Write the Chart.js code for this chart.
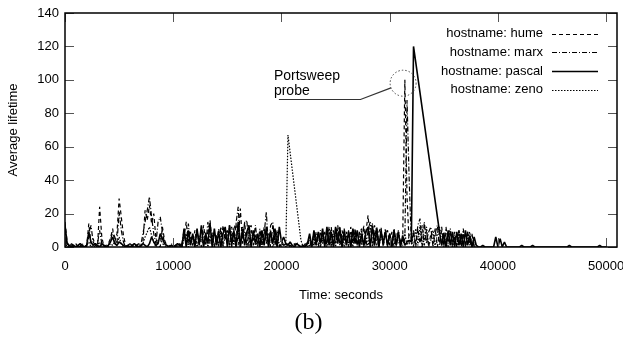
<!DOCTYPE html>
<html>
<head>
<meta charset="utf-8">
<script src="https://cdn.jsdelivr.net/npm/chart.js@4.4.1/dist/chart.umd.min.js"></script>
<style>
  html, body { margin: 0; padding: 0; background: #fff; }
  #wrap { width: 623px; height: 337px; }
</style>
</head>
<body>
<div id="wrap"><canvas id="lifetime-chart" width="623" height="337"></canvas></div>
<script>
// samples every 200 s, starting at t = 0
const sampleStart = 0;
const sampleStep = 200;

const humeValues = [
    15, 3, 0, 1, 0, 2, 0, 1, 0, 1,
    0, 14, 2, 5, 1, 0, 24, 6, 0, 1,
    2, 5, 11, 3, 8, 29, 18, 7, 1, 0,
    1, 0, 2, 0, 1, 0, 3, 22, 16, 25,
    14, 20, 5, 1, 0, 12, 4, 1, 0, 1,
    0, 1, 0, 2, 0, 6, 15, 2, 9, 1,
    10, 2, 7, 0, 13, 3, 9, 16, 1, 8,
    2, 11, 0, 13, 4, 10, 1, 12, 3, 14,
    1, 23, 2, 15, 0, 10, 13, 1, 8, 2,
    9, 1, 12, 2, 8, 0, 13, 3, 1, 2,
    0, 1, 2, 0, 1, 0, 2, 0, 1, 0,
    0, 2, 1, 6, 1, 9, 2, 8, 0, 7,
    1, 10, 2, 12, 0, 8, 13, 1, 10, 3,
    9, 0, 12, 2, 10, 1, 8, 11, 0, 9,
    19, 2, 6, 13, 1, 9, 12, 0, 8, 10,
    1, 9, 0, 8, 2, 4, 3, 100, 30, 2,
    1, 9, 0, 11, 2, 13, 1, 10, 0, 8,
    2, 11, 0, 9, 12, 1, 8, 0, 10, 2,
    9, 1, 10, 0, 8, 2, 9, 1, 4, 1,
    0
];

const marxValues = [
    10, 1, 0, 2, 1, 0, 1, 0, 2, 0,
    1, 6, 13, 3, 1, 2, 10, 2, 1, 0,
    1, 4, 9, 6, 2, 21, 10, 3, 0, 1,
    2, 1, 0, 1, 2, 1, 8, 15, 22, 30,
    18, 8, 2, 15, 18, 9, 2, 1, 0, 2,
    1, 0, 1, 0, 2, 10, 1, 14, 2, 7,
    1, 10, 2, 12, 7, 0, 15, 2, 9, 0,
    7, 0, 12, 1, 10, 2, 13, 0, 11, 14,
    24, 1, 6, 14, 16, 0, 10, 4, 13, 0,
    11, 2, 8, 21, 0, 13, 15, 1, 10, 0,
    4, 1, 0, 2, 0, 1, 0, 3, 1, 0,
    1, 0, 3, 0, 4, 1, 9, 0, 10, 2,
    9, 1, 12, 0, 10, 2, 8, 12, 0, 11,
    1, 10, 0, 7, 11, 0, 9, 1, 13, 0,
    10, 15, 0, 8, 12, 1, 9, 2, 11, 0,
    8, 1, 11, 0, 9, 3, 1, 5, 88, 40,
    2, 10, 1, 13, 17, 0, 15, 2, 9, 12,
    0, 8, 13, 1, 10, 0, 12, 2, 9, 0,
    6, 0, 10, 2, 11, 0, 9, 1, 8, 0,
    0
];

// null = no sample, the line runs straight across
const pascalValues = [
    13, 2, 1, 0, 1, 0, 1, 2, 1, 0,
    1, 9, 3, 1, 2, 1, 0, 2, 1, 0,
    1, 3, 6, 2, 1, 3, 2, 1, 0, 1,
    0, 1, 2, 1, 0, 1, 2, 1, 0, 2,
    6, 3, 1, 2, 8, 5, 2, 1, 0, 1,
    0, 1, 2, 1, 0, 11, 0, 10, 1, 8,
    0, 11, 1, 13, 0, 8, 2, 14, 0, 11,
    1, 9, 0, 8, 12, 0, 13, 1, 10, 0,
    15, 0, 11, 1, 9, 13, 0, 10, 2, 8,
    0, 10, 1, 12, 0, 9, 2, 11, 0, 12,
    3, 6, 2, 1, 3, 1, 0, 2, 1, 0,
    1, 0, 2, 8, 0, 10, 1, 9, 2, 11,
    0, 12, 1, 9, 0, 12, 2, 11, 0, 10,
    1, 9, 0, 11, 2, 10, 0, 8, 1, 9,
    12, 0, 13, 1, 11, 0, 10, 2, 9, 1,
    8, 0, 10, 1, 9, 0, 7, 1, 3, 4,
    3, 120, null, null, null, null, null, null, null, null,
    null, null, null, 9, 1, 8, 0, 10, 1, 9,
    0, 9, 1, 8, 0, 10, 1, 7, 0, 6,
    1, 0, 0, 1, 0, 0, 0, 0, 0, 6,
    0, 5, 0, 3, 0, 0, 0, 0, 0, 0,
    0, 1, 0, 0, 0, 0, 1, 0, 0, 0,
    0, 0, 0, 0, 0, 0, 0, 0, 0, 0,
    0, 0, 0, 1, 0, 0, 0, 0, 0, 0,
    0, 0, 0, 0, 0, 0, 0, 1, 0, 0,
    0
];

const zenoValues = [
    3, 0, 1, 0, 1, 0, 0, 1, 0, 0,
    1, 3, 0, 1, 0, 1, 3, 0, 1, 0,
    0, 2, 1, 3, 1, 6, 2, 0, 1, 0,
    0, 1, 0, 0, 1, 0, 2, 6, 9, 12,
    7, 3, 0, 4, 6, 2, 1, 0, 1, 0,
    1, 0, 0, 1, 0, 5, 8, 0, 6, 1,
    5, 0, 4, 6, 1, 9, 0, 5, 8, 0,
    6, 1, 9, 0, 7, 10, 0, 8, 1, 7,
    10, 0, 12, 8, 1, 7, 0, 9, 1, 3,
    6, 0, 4, 7, 1, 10, 0, 4, 8, 1,
    1, 2, 0, 67, null, null, null, null, null, 4,
    0, 1, 0, 4, 0, 6, 1, 8, 0, 7,
    4, 0, 10, 1, 8, 0, 11, 1, 7, 0,
    7, 1, 9, 0, 8, 1, 4, 10, 0, 7,
    0, 11, 14, 1, 8, 0, 7, 1, 10, 0,
    7, 0, 8, 1, 10, 0, 4, 8, 1, 7,
    8, 0, 11, 1, 13, 0, 5, 12, 1, 4,
    10, 0, 8, 12, 1, 9, 0, 7, 11, 0,
    7, 0, 9, 1, 8, 0, 6, 9, 0, 3,
    1
];

const seriesNames = ['hostname: hume', 'hostname: marx', 'hostname: pascal', 'hostname: zeno'];
const xTickValues = [0, 10000, 20000, 30000, 40000, 50000];
const yTickValues = [0, 20, 40, 60, 80, 100, 120, 140];

// annotation, in data units
const probeLines = ['Portsweep', 'probe'];
const probeTextAt = { x: 19300, y: 102 };
const probeElbowX = 27300;
const probeCircleAt = { x: 31240, y: 98 };

const toPoints = (values) => values.map((v, i) => ({ x: sampleStart + i * sampleStep, y: v }));

const frameTicks = {
    id: 'frameTicks',
    afterDatasetsDraw(chart) {
        const { ctx, chartArea: a, scales: { x, y } } = chart;
        ctx.save();
        ctx.strokeStyle = '#555';
        ctx.lineWidth = 1;
        ctx.beginPath();
        xTickValues.forEach(v => {
            const px = Math.round(x.getPixelForValue(v)) + 0.5;
            ctx.moveTo(px, a.bottom); ctx.lineTo(px, a.bottom - 9);
            ctx.moveTo(px, a.top); ctx.lineTo(px, a.top + 9);
        });
        yTickValues.forEach(v => {
            const py = Math.round(y.getPixelForValue(v)) + 0.5;
            ctx.moveTo(a.left, py); ctx.lineTo(a.left + 9, py);
            ctx.moveTo(a.right, py); ctx.lineTo(a.right - 9, py);
        });
        ctx.stroke();
        ctx.strokeStyle = '#000';
        ctx.lineWidth = 1.5;
        ctx.strokeRect(a.left, a.top, a.width, a.height);
        ctx.restore();
    }
};

const lineKey = {
    id: 'lineKey',
    afterDraw(chart) {
        const { ctx, chartArea: a } = chart;
        ctx.save();
        ctx.font = '13px "Liberation Sans", Arial, sans-serif';
        ctx.textAlign = 'right';
        ctx.textBaseline = 'middle';
        ctx.fillStyle = '#000';
        chart.data.datasets.forEach((ds, i) => {
            const rowY = a.top + 20.5 + i * 18.8;
            ctx.fillText(ds.label, a.right - 74, rowY);
            ctx.setLineDash(ds.borderDash || []);
            ctx.lineWidth = ds.borderWidth;
            ctx.strokeStyle = ds.borderColor;
            ctx.beginPath();
            ctx.moveTo(a.right - 65, Math.round(rowY) + 0.5);
            ctx.lineTo(a.right - 19, Math.round(rowY) + 0.5);
            ctx.stroke();
        });
        ctx.restore();
    }
};

const probeNote = {
    id: 'probeNote',
    afterDatasetsDraw(chart) {
        const { ctx, scales: { x, y } } = chart;
        const tx = x.getPixelForValue(probeTextAt.x);
        const ty = y.getPixelForValue(probeTextAt.y);
        const cx = x.getPixelForValue(probeCircleAt.x);
        const cy = y.getPixelForValue(probeCircleAt.y);
        const r = 13;
        ctx.save();
        ctx.font = '14px "Liberation Sans", Arial, sans-serif';
        ctx.fillStyle = '#000';
        ctx.textAlign = 'left';
        ctx.textBaseline = 'middle';
        probeLines.forEach((t, i) => ctx.fillText(t, tx, ty + i * 15));

        // leader line: under "probe", then up to the circle
        const underY = Math.round(ty + 22.5) + 0.5;
        const ex = x.getPixelForValue(probeElbowX);
        const dx = cx - ex, dy = cy - underY;
        const len = Math.hypot(dx, dy);
        ctx.strokeStyle = '#333';
        ctx.lineWidth = 1.2;
        ctx.beginPath();
        ctx.moveTo(tx + 5, underY);
        ctx.lineTo(ex, underY);
        ctx.lineTo(cx - r * dx / len, cy - r * dy / len);
        ctx.stroke();

        ctx.setLineDash([1.5, 2]);
        ctx.lineWidth = 1;
        ctx.strokeStyle = '#444';
        ctx.beginPath();
        ctx.arc(cx, cy, r, 0, Math.PI * 2);
        ctx.stroke();
        ctx.restore();
    }
};

function makeSeries(label, values, dash, width) {
    return {
        label: label,
        data: toPoints(values),
        borderColor: '#000',
        borderWidth: width,
        borderDash: dash,
        borderJoinStyle: 'bevel',
        pointRadius: 0,
        tension: 0,
        spanGaps: true,
        fill: false
    };
}

Chart.defaults.font.family = '"Liberation Sans", Arial, sans-serif';
Chart.defaults.font.size = 13;
Chart.defaults.color = '#000';

new Chart(document.getElementById('lifetime-chart'), {
    type: 'line',
    data: {
        datasets: [
            makeSeries(seriesNames[0], humeValues, [4, 3], 1.2),
            makeSeries(seriesNames[1], marxValues, [5, 2, 1, 2], 1.2),
            makeSeries(seriesNames[2], pascalValues, [], 1.6),
            makeSeries(seriesNames[3], zenoValues, [1.5, 1.5], 1.2)
        ]
    },
    options: {
        responsive: false,
        animation: false,
        devicePixelRatio: 1,
        layout: { padding: { top: 13, right: 6, bottom: 0, left: 0 } },
        scales: {
            x: {
                type: 'linear',
                min: 0,
                max: 51000,
                grid: { display: false, drawTicks: false },
                border: { display: false },
                ticks: { padding: 12, maxRotation: 0, callback: (v) => String(v) },
                afterBuildTicks: (s) => { s.ticks = xTickValues.map(v => ({ value: v })); },
                afterFit: (s) => { s.height = 56.2; s.paddingLeft = 0; s.paddingRight = 0; },
                title: { display: true, text: 'Time: seconds', padding: { top: 0, bottom: 0 } }
            },
            y: {
                min: 0,
                max: 140,
                grid: { display: false, drawTicks: false },
                border: { display: false },
                ticks: { padding: 6, callback: (v) => String(v) },
                afterBuildTicks: (s) => { s.ticks = yTickValues.map(v => ({ value: v })); },
                afterFit: (s) => { s.width = 65; s.paddingTop = 0; s.paddingBottom = 0; },
                title: { display: true, text: 'Average lifetime', padding: { top: 6, bottom: 0 } }
            }
        },
        plugins: {
            legend: { display: false },
            tooltip: { enabled: false },
            title: {
                display: true,
                text: '(b)',
                position: 'bottom',
                color: '#000',
                font: { family: '"Liberation Serif", "DejaVu Serif", serif', size: 24, weight: 'normal' },
                padding: { top: 5, bottom: 0 }
            }
        }
    },
    plugins: [frameTicks, probeNote, lineKey]
});
</script>
</body>
</html>
